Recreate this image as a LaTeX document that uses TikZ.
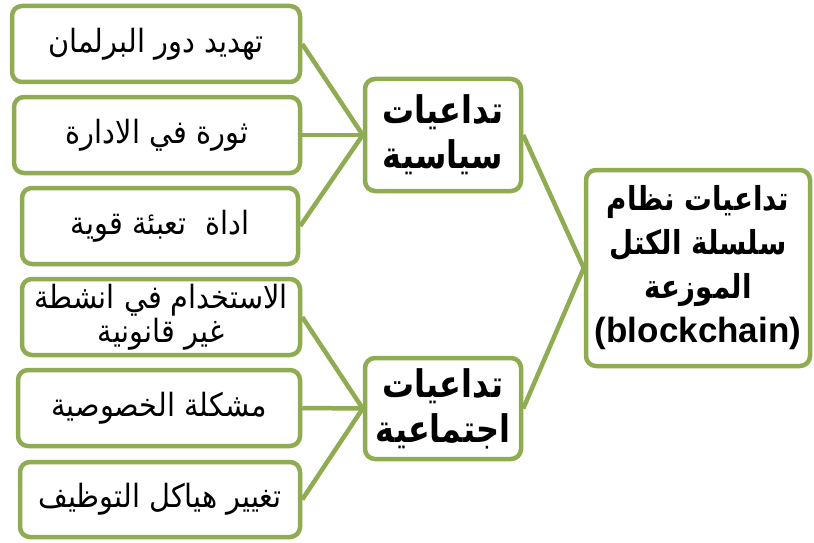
\documentclass[tikz,border=0pt]{standalone}
\usepackage{fontspec}
\newfontfamily\arabicfont[Script=Arabic, FakeStretch=0.9]{DejaVu Sans}
\newfontfamily\arabicbold[Script=Arabic, FakeStretch=0.84]{DejaVu Sans Bold}
\newfontfamily\latinbold{Liberation Sans}
\TeXXeTstate=1
\newcommand{\artxt}[1]{\beginR #1\endR}
\definecolor{leafgreen}{RGB}{143,172,82}
\tikzset{
  itembox/.style={draw=leafgreen, line width=4.5pt, rounded corners=10pt,
    fill=white, inner sep=2pt, align=center,
    font=\arabicfont\fontsize{32}{34}\selectfont},
  groupbox/.style={itembox, font=\arabicbold\fontsize{38}{45}\selectfont},
  link/.style={draw=leafgreen, line width=4.5pt}
}
\begin{document}
\begin{tikzpicture}[x=1pt,y=-1pt]
  \useasboundingbox (0,0) rectangle (814,543);
  \fill[white] (0,0) rectangle (814,543);

  % leaf items, political group
  \node[itembox, minimum width=288pt, minimum height=76pt] (p1) at (156,44) {\artxt{تهديد دور البرلمان}};
  \node[itembox, minimum width=286pt, minimum height=76pt] (p2) at (157,135) {\artxt{ثورة في الادارة}};
  \node[itembox, minimum width=276pt, minimum height=76pt] (p3) at (160,226) {\artxt{اداة\ \ تعبئة قوية}};

  % leaf items, social group
  \node[itembox, minimum width=278pt, minimum height=76pt] (s1) at (161,317) {\artxt{الاستخدام في انشطة}\\\artxt{غير قانونية}};
  \node[itembox, minimum width=282pt, minimum height=76pt] (s2) at (159,408) {\artxt{مشكلة الخصوصية}};
  \node[itembox, minimum width=280pt, minimum height=75pt] (s3) at (160,499.5) {\artxt{تغيير هياكل التوظيف}};

  % group headings
  \node[groupbox, minimum width=156pt, minimum height=112pt] (pol) at (443,135) {\artxt{تداعيات}\\\artxt{سياسية}};
  \node[groupbox, minimum width=156pt, minimum height=101pt] (soc) at (443,408.5) {\artxt{تداعيات}\\\artxt{اجتماعية}};

  % root
  \node[groupbox, minimum width=224pt, minimum height=196pt,
        font=\arabicbold\fontsize{33}{44}\selectfont] (root) at (698,268)
    {\artxt{تداعيات نظام}\\\artxt{سلسلة الكتل}\\\artxt{الموزعة}\\{\latinbold\bfseries\fontsize{35}{44}\selectfont (blockchain)}};

  % connectors
  \foreach \n in {p1,p2,p3} \draw[link] (\n.east) -- (pol.west);
  \foreach \n in {s1,s2,s3} \draw[link] (\n.east) -- (soc.west);
  \draw[link] (pol.east) -- (root.west);
  \draw[link] (soc.east) -- (root.west);
\end{tikzpicture}
\end{document}
